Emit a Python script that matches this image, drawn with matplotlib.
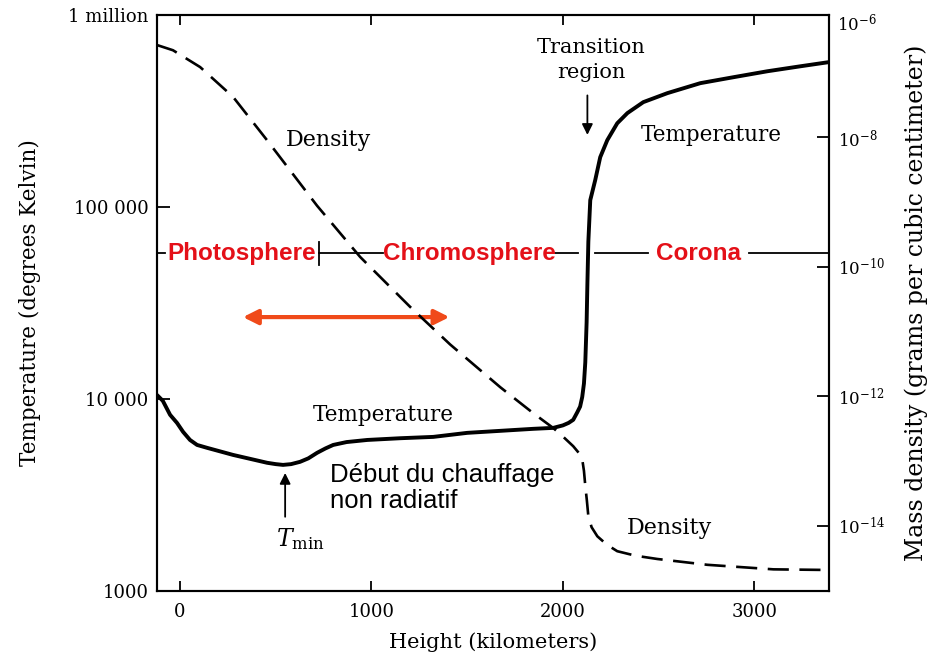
# Profil de température et de densité de l'atmosphère solaire
import numpy as np
import matplotlib.pyplot as plt
from matplotlib.ticker import FixedLocator, FixedFormatter, NullLocator

plt.rcParams['font.family'] = ['DejaVu Serif']
plt.rcParams['mathtext.fontset'] = 'dejavuserif'

# Température (log10 K) en fonction de la hauteur (km)
temp_hauteur = [-120, -90, -52, -16, 16, 52, 89, 141, 277, 455, 500, 538, 580, 627, 670,
                716, 760, 800, 870, 978, 1150, 1323, 1500, 1845, 1950, 2000, 2030, 2054,
                2075, 2090, 2101, 2110, 2117, 2124, 2128, 2133, 2143, 2169, 2195, 2232,
                2284, 2337, 2420, 2546, 2718, 2891, 3068, 3241, 3392]
temp_log = [4.02, 3.99, 3.917, 3.875, 3.828, 3.786, 3.76, 3.745, 3.708, 3.667, 3.66,
            3.656, 3.66, 3.672, 3.69, 3.719, 3.742, 3.76, 3.775, 3.786, 3.795, 3.802,
            3.823, 3.844, 3.849, 3.862, 3.875, 3.891, 3.93, 3.96, 4.01, 4.08, 4.19,
            4.40, 4.60, 4.82, 5.036, 5.141, 5.26, 5.349, 5.437, 5.49, 5.547, 5.594,
            5.646, 5.677, 5.708, 5.734, 5.756]

# Densité massique (log10 g/cm3) en fonction de la hauteur (km)
dens_hauteur = [-120, -37, 105, 277, 455, 716, 941, 1202, 1411, 1673, 1845, 1950, 2000,
                2054, 2085, 2101, 2110, 2117, 2125, 2133, 2150, 2180, 2230, 2284, 2380,
                2493, 2755, 3100, 3392]
dens_log = [-6.58, -6.66, -6.92, -7.38, -8.05, -9.06, -9.85, -10.62, -11.20, -11.86,
            -12.26, -12.49, -12.62, -12.77, -12.88, -12.97, -13.15, -13.38, -13.6,
            -13.85, -14.02, -14.16, -14.29, -14.39, -14.46, -14.51, -14.60, -14.67, -14.68]

x_ticks = [0, 1000, 2000, 3000]
t_ticks = [1e3, 1e4, 1e5, 1e6]
t_labels = ['1000', '10 000', '100 000', '1 million']
d_ticks = [1e-14, 1e-12, 1e-10, 1e-8]
d_labels = ['$10^{-14}$', '$10^{-12}$', '$10^{-10}$', '$10^{-8}$']

temperature = 10 ** np.array(temp_log)
densite = 10 ** np.array(dens_log)

fig = plt.figure(figsize=(9.35, 6.63), dpi=100)
ax = fig.add_axes([0.168, 0.109, 0.719, 0.868])
ax2 = ax.twinx()

ax.plot(temp_hauteur, temperature, color='black', lw=2.8, solid_capstyle='round',
        solid_joinstyle='round')
ax2.plot(dens_hauteur, densite, color='black', lw=1.9, dashes=(8, 4))

ax.set_xlim(-120, 3392)
ax.set_yscale('log')
ax.set_ylim(1e3, 1e6)
ax2.set_yscale('log')
ax2.set_ylim(1e-15, 10 ** -6.12)

for a in (ax, ax2):
    for s in a.spines.values():
        s.set_linewidth(1.5)

ax.xaxis.set_major_locator(FixedLocator(x_ticks))
ax.tick_params(axis='x', direction='in', length=7, width=1.3, top=True, labelsize=13, pad=9)
ax.yaxis.set_major_locator(FixedLocator(t_ticks))
ax.yaxis.set_major_formatter(FixedFormatter(t_labels))
ax.yaxis.set_minor_locator(NullLocator())
ax.tick_params(axis='y', direction='in', length=9, width=1.3, labelsize=13, pad=6)
ax2.yaxis.set_major_locator(FixedLocator(d_ticks))
ax2.yaxis.set_major_formatter(FixedFormatter(d_labels))
ax2.yaxis.set_minor_locator(NullLocator())
ax2.tick_params(axis='y', direction='in', length=9, width=1.3, labelsize=12, pad=6)
ax2.text(1.012, 0.985, '$10^{-6}$', transform=ax.transAxes, fontsize=12, va='center')

ax.set_xlabel('Height (kilometers)', fontsize=15, labelpad=8)
ax.set_ylabel('Temperature (degrees Kelvin)', fontsize=15.5, labelpad=20)
ax2.set_ylabel('Mass density (grams per cubic centimeter)', fontsize=17, labelpad=14)

# Etiquettes des courbes
ax.text(774, 2.23e5, 'Density', fontsize=16, ha='center', va='center')
ax.text(2776, 2.37e5, 'Temperature', fontsize=15.5, ha='center', va='center')
ax.text(1061, 8260, 'Temperature', fontsize=15.5, ha='center', va='center')
ax.text(2556, 2130, 'Density', fontsize=16, ha='center', va='center')
ax.text(2150, 5.85e5, 'Transition\nregion', fontsize=15, ha='center', va='center',
        linespacing=1.35)
ax.annotate('', xy=(2128, 2.3e5), xytext=(2128, 3.95e5),
            arrowprops=dict(arrowstyle='-|>', color='black', lw=1.3, mutation_scale=16))
ax.annotate('', xy=(549, 4250), xytext=(549, 2350),
            arrowprops=dict(arrowstyle='-|>', color='black', lw=1.3, mutation_scale=16))
ax.text(627, 1850, r'$T_{\rm min}$', fontsize=17, ha='center', va='center')
ax.text(784, 3450, 'Début du chauffage\nnon radiatif', fontsize=18.5, ha='left',
        va='center', family=['Liberation Sans', 'DejaVu Sans'], linespacing=1.1)

# Régions de l'atmosphère
y_reg = 5.75e4
for x0, x1 in [(-120, -80), (727, 1061), (1960, 2080), (2169, 2446), (2974, 3392)]:
    ax.plot([x0, x1], [y_reg, y_reg], color='black', lw=1.3)
ax.plot([727, 727], [5.0e4, 6.6e4], color='black', lw=1.3)
rouge = '#e41018'
for x, nom in [(324, 'Photosphere'), (1511, 'Chromosphere'), (2708, 'Corona')]:
    ax.text(x, y_reg, nom, color=rouge, fontsize=17.5, fontweight='bold', ha='center',
            va='center', family=['Liberation Sans', 'DejaVu Sans'])
ax.annotate('', xy=(1422, 2.67e4), xytext=(314, 2.67e4),
            arrowprops=dict(arrowstyle='<|-|>', color='#f04a1a', lw=3, mutation_scale=22))

plt.savefig('out.png', dpi=100)
